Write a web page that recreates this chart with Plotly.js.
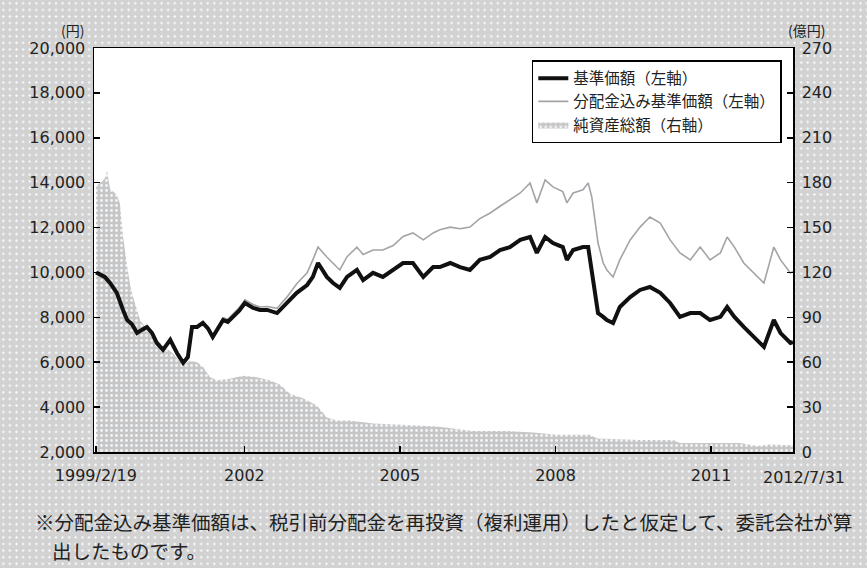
<!DOCTYPE html>
<html>
<head>
<meta charset="utf-8">
<script src="https://cdn.plot.ly/plotly-3.0.1.min.js"></script>
<style>
  html, body { margin: 0; padding: 0; }
  body {
    width: 867px; height: 568px; overflow: hidden;
    background-color: #d2d2d2;
    background-image: radial-gradient(circle, #f4f6f8 1px, rgba(0,0,0,0) 1.4px);
    background-size: 6.6px 6.6px;
  }
  #chart { width: 867px; height: 568px; }
</style>
</head>
<body>
<div id="chart"></div>
<script>
// ---- Data (x in decimal years) ----
const priceYears = [1999.14,1999.22,1999.31,1999.41,1999.54,1999.66,1999.74,1999.83,1999.93,2000.03,
  2000.12,2000.22,2000.31,2000.43,2000.57,2000.70,2000.82,2000.91,2000.99,2001.09,
  2001.20,2001.30,2001.39,2001.49,2001.59,2001.68,2001.78,2001.90,2002.01,2002.17,
  2002.30,2002.44,2002.63,2002.82,2003.01,2003.21,2003.32,2003.42,2003.59,2003.71,
  2003.84,2003.98,2004.17,2004.29,2004.48,2004.67,2004.87,2005.06,2005.25,2005.45,
  2005.64,2005.77,2005.97,2006.16,2006.35,2006.54,2006.74,2006.93,2007.12,2007.32,
  2007.51,2007.64,2007.80,2007.95,2008.14,2008.22,2008.34,2008.53,2008.63,2008.70,
  2008.76,2008.82,2008.92,2008.99,2009.11,2009.24,2009.44,2009.63,2009.82,2010.02,
  2010.21,2010.40,2010.60,2010.79,2010.98,2011.18,2011.31,2011.45,2011.63,2011.82,
  2012.02,2012.21,2012.34,2012.53,2012.58];

const navValues = [10000,9900,9800,9530,9090,8330,7880,7700,7300,7450,
  7570,7300,6860,6550,7000,6410,5970,6230,7570,7570,
  7750,7500,7120,7500,7880,7800,8020,8300,8640,8420,
  8330,8330,8190,8640,9090,9440,9800,10420,9800,9530,
  9310,9800,10110,9660,9980,9800,10110,10420,10420,9800,
  10240,10240,10420,10240,10110,10560,10690,11000,11130,11450,
  11580,10870,11580,11310,11130,10560,11000,11130,11130,10110,
  9090,8190,8020,7880,7750,8460,8900,9220,9350,9090,
  8640,8020,8190,8190,7880,8020,8460,8020,7570,7120,
  6680,7880,7300,6860,6900];

const reinvestedValues = [10000,9850,9700,9450,9000,8250,7800,7650,7250,7420,
  7550,7280,6850,6550,7000,6420,5990,6260,7620,7620,
  7810,7570,7200,7590,7980,7910,8140,8430,8780,8570,
  8460,8480,8400,8900,9500,9980,10560,11130,10690,10400,
  10110,10700,11130,10800,11000,11000,11200,11600,11760,11450,
  11760,11900,12020,11950,12020,12400,12650,12950,13230,13540,
  13990,13100,14120,13810,13600,13100,13540,13680,13990,13360,
  12340,11310,10420,10110,9800,10560,11450,12020,12470,12200,
  11450,10870,10560,11130,10560,10870,11580,11130,10420,9980,
  9530,11130,10560,9980,10050];

const assetYears = [1999.14,1999.22,1999.31,1999.35,1999.41,1999.54,1999.60,1999.66,1999.74,1999.79,
  1999.85,1999.99,2000.12,2000.31,2000.47,2000.62,2000.82,2000.95,2001.09,2001.20,
  2001.34,2001.47,2001.72,2001.97,2002.24,2002.49,2002.69,2002.88,2003.13,2003.40,
  2003.59,2003.79,2004.04,2004.48,2005.14,2005.71,2006.41,2007.06,2007.57,2008.03,
  2008.67,2008.80,2009.63,2010.27,2010.40,2011.56,2011.89,2012.14,2012.58];

const assetValues = [178,180,183,188,176,172,166,144,124,113,
  104,88,82,75,70,66,58,61,60,57,
  50,48,49,51,50,48,45,39,36,31,
  23,21,21,19,18,17,14,14,13,11.5,
  11.5,9,8,8,6,6,4,5,4.5];

const xTickVals = [1999.135, 2002, 2005, 2008, 2011, 2012.58];
const xTickText = ['1999/2/19', '2002', '2005', '2008', '2011', ''];
const seriesNames = ['基準価額（左軸）', '分配金込み基準価額（左軸）', '純資産総額（右軸）'];
const noteLines = ['※分配金込み基準価額は、税引前分配金を再投資（複利運用）したと仮定して、委託会社が算', '出したものです。'];

const jp = '"Noto Sans CJK JP", "Noto Sans", sans-serif';
const num = '"DejaVu Sans", sans-serif';

// Assets on the base (right-side) axis so the price lines (overlaying axis) draw on top.
const traces = [
  {
    x: assetYears, y: assetValues, yaxis: 'y', type: 'scatter', mode: 'lines',
    name: seriesNames[2], legendrank: 3,
    fill: 'tozeroy', fillcolor: '#c6c6c6',
    fillpattern: { shape: '.', bgcolor: '#c6c6c6', fgcolor: '#f2f5f8', size: 5, solidity: 0.25 },
    line: { width: 0, color: '#c6c6c6' }
  },
  {
    x: priceYears, y: reinvestedValues, yaxis: 'y2', type: 'scatter', mode: 'lines',
    name: seriesNames[1], legendrank: 2,
    line: { color: '#a4a4a8', width: 1.6 }
  },
  {
    x: priceYears, y: navValues, yaxis: 'y2', type: 'scatter', mode: 'lines',
    name: seriesNames[0], legendrank: 1,
    line: { color: '#111111', width: 4 }
  }
];

const axisCommon = {
  ticks: 'inside', ticklen: 6, tickwidth: 1.5, tickcolor: '#000',
  showline: true, linecolor: '#000', linewidth: 1.5,
  showgrid: false, zeroline: false,
  tickfont: { family: num, size: 16, color: '#222' }
};

const layout = {
  width: 867, height: 568,
  margin: { l: 94, r: 74, t: 48, b: 116 },
  paper_bgcolor: 'rgba(0,0,0,0)',
  plot_bgcolor: '#ffffff',
  showlegend: true,
  legend: {
    x: 0.984, xanchor: 'right', y: 0.970, yanchor: 'top',
    bgcolor: '#ffffff', bordercolor: '#000000', borderwidth: 1.5,
    font: { family: jp, size: 15.5, color: '#222' },
    itemwidth: 30, tracegroupgap: 0
  },
  xaxis: Object.assign({}, axisCommon, {
    range: [1999.10, 2012.58],
    tickmode: 'array', tickvals: xTickVals, ticktext: xTickText,
    mirror: true, ticklabelstandoff: 8
  }),
  yaxis: Object.assign({}, axisCommon, {
    side: 'right',
    range: [0, 270], dtick: 30, tick0: 0,
    ticklabelstandoff: 4
  }),
  yaxis2: Object.assign({}, axisCommon, {
    overlaying: 'y', side: 'left',
    range: [2000, 20000], dtick: 2000, tick0: 2000, tickformat: ',d',
    ticklabelstandoff: 4
  }),
  annotations: [
    { text: '(円)', xref: 'paper', yref: 'paper', x: -0.012, y: 1.045, xanchor: 'right', yanchor: 'middle',
      showarrow: false, font: { family: jp, size: 14, color: '#222' } },
    { text: '(億円)', xref: 'paper', yref: 'paper', x: 0.99, y: 1.045, xanchor: 'left', yanchor: 'middle',
      showarrow: false, font: { family: jp, size: 14, color: '#222' } },
    { text: '2012/7/31', xref: 'paper', yref: 'paper', x: 1.0157, y: -0.062, xanchor: 'center', yanchor: 'middle',
      showarrow: false, font: { family: num, size: 16, color: '#222' } },
    { text: noteLines[0],
      xref: 'paper', yref: 'paper', x: -0.0873, y: -0.1708, xanchor: 'left', yanchor: 'middle',
      showarrow: false, font: { family: jp, size: 19.5, color: '#222' } },
    { text: noteLines[1],
      xref: 'paper', yref: 'paper', x: -0.0629, y: -0.2426, xanchor: 'left', yanchor: 'middle',
      showarrow: false, font: { family: jp, size: 19.5, color: '#222' } }
  ]
};

Plotly.newPlot('chart', traces, layout, { displayModeBar: false, staticPlot: true });
</script>
</body>
</html>
